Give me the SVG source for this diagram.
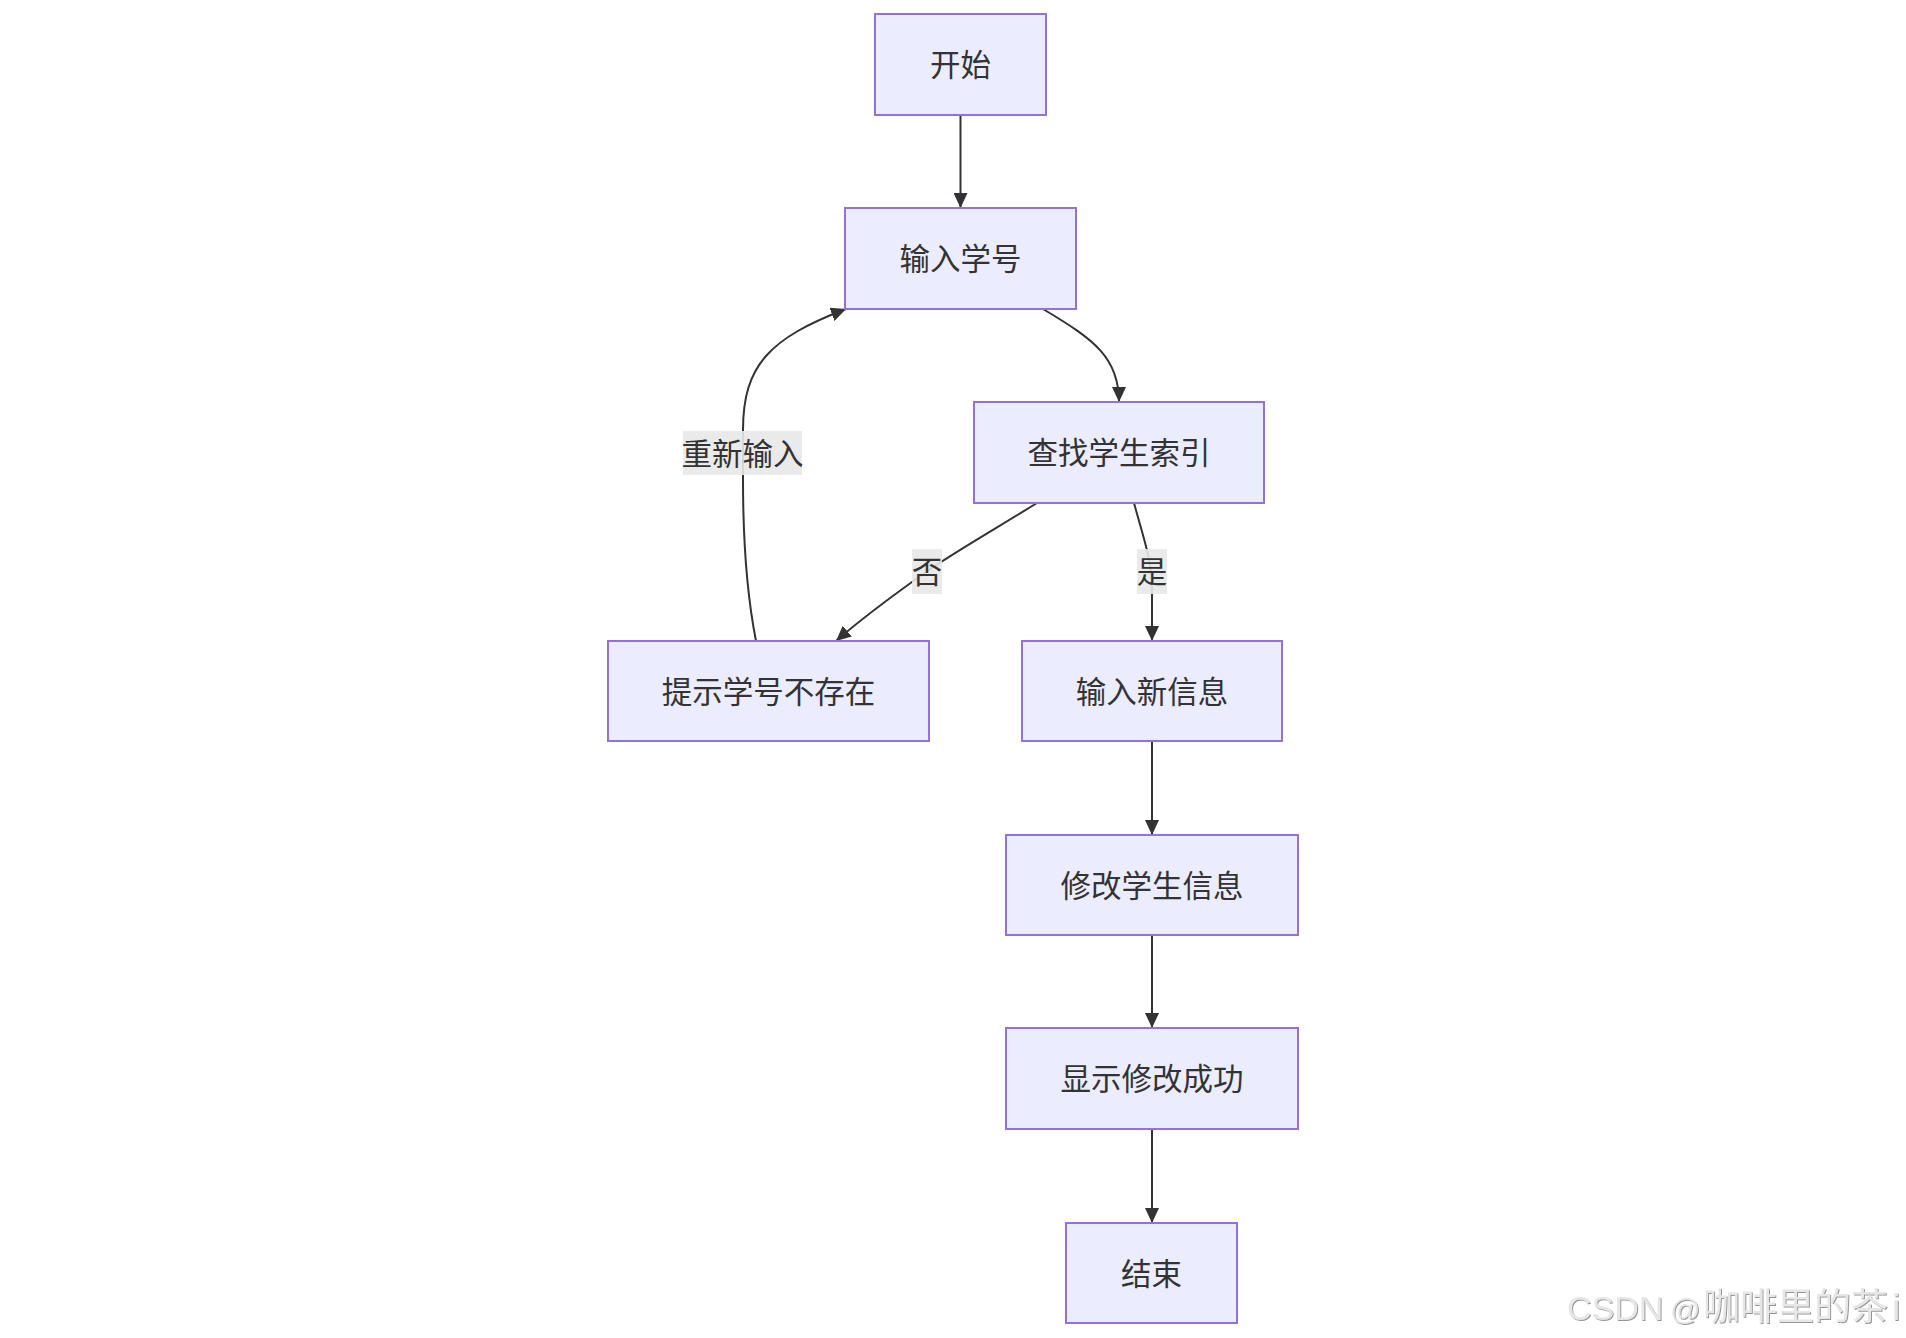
<svg xmlns="http://www.w3.org/2000/svg" width="1906" height="1338" viewBox="0 0 1906 1338">
<style>
.node rect{fill:#ECECFF;stroke:#9370DB;stroke-width:2}
.node text,.lbl text{font-family:"Noto Sans CJK SC","Noto Sans",sans-serif;font-size:30.5px;fill:#333;text-anchor:middle;dominant-baseline:central}
.edges path{fill:none;stroke:#333;stroke-width:2}
.lbl rect{fill:#e8e8e8;fill-opacity:0.9}
.wm{font-family:"Liberation Sans","Noto Sans CJK SC",sans-serif;fill:#e6e6e6}
.wm .cjk{font-family:"Noto Sans CJK SC",sans-serif}
</style>
<defs>
<marker id="ah" markerUnits="userSpaceOnUse" markerWidth="16" markerHeight="14" refX="15" refY="7" orient="auto">
<path d="M0,0 L15,7 L0,14 z" fill="#333"/>
</marker>
<filter id="sh" x="-5%" y="-20%" width="110%" height="140%">
<feDropShadow dx="1" dy="1" stdDeviation="0.6" flood-color="#8a8a8a" flood-opacity="0.9"/>
</filter>
</defs>
<rect width="1906" height="1338" fill="#fff"/>
<g class="edges">
<path d="M960.5,115.5 L960.5,208" marker-end="url(#ah)"/>
<path d="M1043,309 C1095,340 1119,358 1119,402" marker-end="url(#ah)"/>
<path d="M1037,503 C990,532 950,555 926,572 C895,594 860,620 836,641" marker-end="url(#ah)"/>
<path d="M1134,503 C1144,540 1152,560 1152,590 L1152,641" marker-end="url(#ah)"/>
<path d="M756,641 C746,590 743,540 743,480 L743,430 C743,365 770,338 846,309" marker-end="url(#ah)"/>
<path d="M1152,741 L1152,835" marker-end="url(#ah)"/>
<path d="M1152,935 L1152,1028" marker-end="url(#ah)"/>
<path d="M1152,1129 L1152,1223" marker-end="url(#ah)"/>
</g>
<g class="lbl" id="label-retry"><rect x="683" y="431" width="119" height="44"/><text x="742.5" y="451.5">重新输入</text></g>
<g class="lbl" id="label-no"><rect x="912" y="549" width="30" height="45"/><text x="927" y="570">否</text></g>
<g class="lbl" id="label-yes"><rect x="1137" y="549" width="30" height="45"/><text x="1152" y="570">是</text></g>
<g class="node" id="start"><rect x="875" y="14" width="171" height="101"/><text x="960.5" y="63">开始</text></g>
<g class="node" id="input-id"><rect x="845" y="208" width="231" height="101"/><text x="960.5" y="257">输入学号</text></g>
<g class="node" id="search"><rect x="974" y="402" width="290" height="101"/><text x="1119" y="451">查找学生索引</text></g>
<g class="node" id="not-exist"><rect x="608" y="641" width="321" height="100"/><text x="768.5" y="689.5">提示学号不存在</text></g>
<g class="node" id="input-new"><rect x="1022" y="641" width="260" height="100"/><text x="1152" y="689.5">输入新信息</text></g>
<g class="node" id="modify"><rect x="1006" y="835" width="292" height="100"/><text x="1152" y="883.5">修改学生信息</text></g>
<g class="node" id="success"><rect x="1006" y="1028" width="292" height="101"/><text x="1152" y="1077">显示修改成功</text></g>
<g class="node" id="end"><rect x="1066" y="1223" width="171" height="100"/><text x="1151.5" y="1271.5">结束</text></g>
<text class="wm" y="1320" filter="url(#sh)"><tspan x="1567" font-size="34">CSDN</tspan><tspan x="1670" font-size="30">@</tspan><tspan class="cjk" x="1703" font-size="37">咖啡里的茶</tspan><tspan x="1892" font-size="37">i</tspan></text>
</svg>
